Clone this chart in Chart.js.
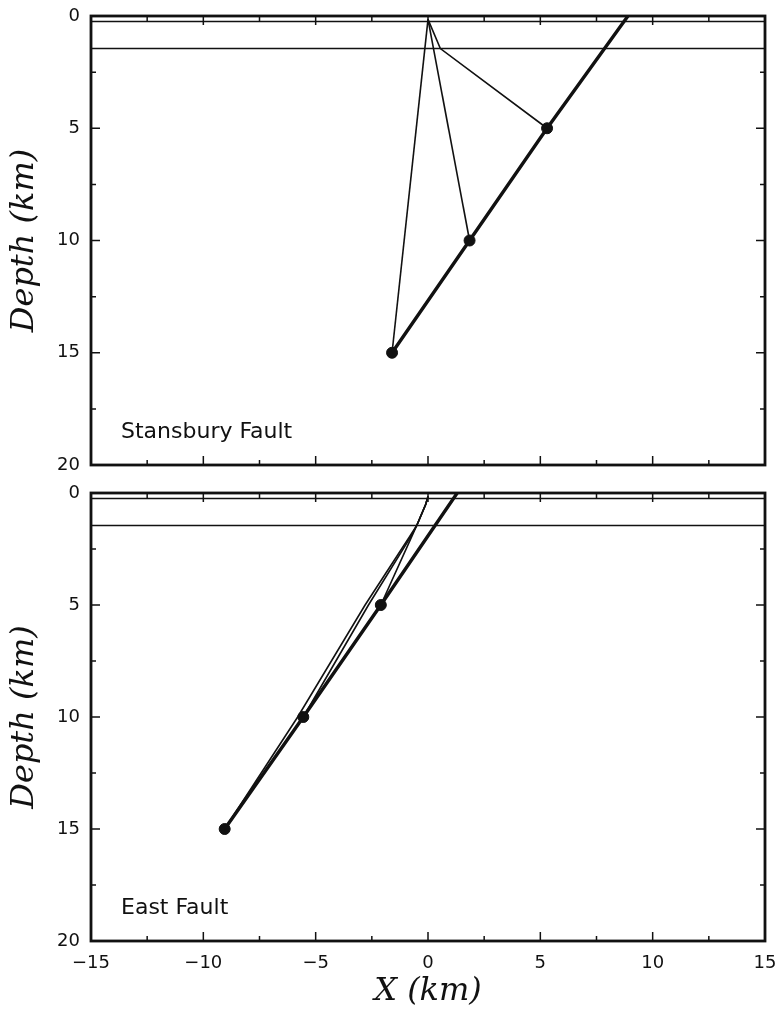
<!DOCTYPE html>
<html>
<head>
<meta charset="utf-8">
<title>Stansbury and East Fault ray paths</title>
<script src="https://cdn.jsdelivr.net/npm/chart.js@4.4.1/dist/chart.umd.min.js"></script>
<style>
  html, body { margin: 0; padding: 0; background: #fff; }
  #wrap { position: relative; width: 776px; height: 1020px; }
  canvas { position: absolute; left: 0; }
  #topChart { top: 0; }
  #bottomChart { top: 476px; }
</style>
</head>
<body>
<div id="wrap">
  <canvas id="topChart" width="776" height="480"></canvas>
  <canvas id="bottomChart" width="776" height="544"></canvas>
</div>
<script>
// ==================== DATA ====================
// depth (km) at which each fault trace value is given
const faultDepths = [0, 5, 10, 15];
// hypocentre depths (km)
const hypoDepths = [5, 10, 15];
// layer boundaries (km)
const layerDepths = [0.25, 1.45];
const xRange = [-15, 15];

// Stansbury Fault
const stansburyFaultX = [8.9, 5.3, 1.85, -1.6];
const stansburyHypoX = [5.3, 1.85, -1.6];
const stansburyRay5X = [0, 0.55, 5.3];
const stansburyRay5Z = [0.15, 1.45, 5];
const stansburyRay10X = [0, 1.85];
const stansburyRay10Z = [0.15, 10];
const stansburyRay15X = [0, -1.6];
const stansburyRay15Z = [0.15, 15];

// East Fault
const eastFaultX = [1.3, -2.1, -5.55, -9.05];
const eastHypoX = [-2.1, -5.55, -9.05];
const eastRay5X = [0, -0.1, -0.5, -0.75, -2.1];
const eastRay5Z = [0.15, 0.5, 1.45, 2.0, 5];
const eastRay10X = [0, -0.1, -0.5, -0.8, -2.65, -5.55];
const eastRay10Z = [0.15, 0.5, 1.45, 2.0, 5, 10];
const eastRay15X = [0, -0.1, -0.5, -0.85, -2.8, -5.8, -9.05];
const eastRay15Z = [0.15, 0.5, 1.45, 2.0, 5, 10, 15];

const depthTicks = [0, 5, 10, 15, 20];

// ==================== HELPERS ====================
const INK = "#111";

function pts(xs, zs) {
  return xs.map((x, i) => ({ x: x, y: zs[i] }));
}

function panelDatasets(faultX, hypoX, rays) {
  const sets = [];
  layerDepths.forEach(d => {
    sets.push({ data: pts(xRange, [d, d]), borderColor: INK, borderWidth: 1.5, pointRadius: 0, showLine: true });
  });
  rays.forEach(r => {
    sets.push({ data: pts(r[0], r[1]), borderColor: INK, borderWidth: 1.6, pointRadius: 0, showLine: true });
  });
  sets.push({ data: pts(faultX, faultDepths), borderColor: INK, borderWidth: 3.4, pointRadius: 0, showLine: true });
  sets.push({ data: pts(hypoX, hypoDepths), backgroundColor: INK, borderColor: INK, pointRadius: 5.5, showLine: false });
  return sets;
}

// frame, inward ticks and panel name
const framePlugin = {
  id: "frame",
  afterDatasetsDraw(chart, args, opts) {
    const { ctx, chartArea: a, scales } = chart;
    const x = scales.x, y = scales.y;
    ctx.save();
    ctx.strokeStyle = INK;
    ctx.lineWidth = 1.5;
    ctx.beginPath();
    for (let v = -12.5; v < 15; v += 2.5) {
      const px = x.getPixelForValue(v);
      const len = v % 5 === 0 ? 9 : 5;
      ctx.moveTo(px, a.bottom); ctx.lineTo(px, a.bottom - len);
      ctx.moveTo(px, a.top); ctx.lineTo(px, a.top + len);
    }
    for (let v = 2.5; v < 20; v += 2.5) {
      const py = y.getPixelForValue(v);
      const len = v % 5 === 0 ? 9 : 5;
      ctx.moveTo(a.left, py); ctx.lineTo(a.left + len, py);
      ctx.moveTo(a.right, py); ctx.lineTo(a.right - len, py);
    }
    ctx.stroke();
    ctx.lineWidth = 2.8;
    ctx.strokeRect(a.left, a.top, a.right - a.left, a.bottom - a.top);
    ctx.fillStyle = INK;
    ctx.font = "22px 'DejaVu Sans'";
    ctx.textBaseline = "alphabetic";
    ctx.fillText(opts.label, a.left + 30, a.bottom - 27);
    ctx.restore();
  }
};

function makeChart(id, datasets, label, showX) {
  return new Chart(document.getElementById(id), {
    type: "scatter",
    data: { datasets: datasets },
    plugins: [framePlugin],
    options: {
      responsive: false,
      animation: false,
      layout: { padding: { top: showX ? 17 : 16, right: 11, bottom: showX ? 0 : 15, left: 0 } },
      plugins: {
        legend: { display: false },
        tooltip: { enabled: false },
        frame: { label: label }
      },
      scales: {
        x: {
          type: "linear",
          min: xRange[0], max: xRange[1],
          display: showX,
          grid: { display: false, drawTicks: false },
          border: { display: false },
          ticks: {
            stepSize: 5, padding: 12, color: INK, maxRotation: 0,
            font: { family: "'DejaVu Sans'", size: 18 },
            callback: v => String(v).replace("-", "\u2212")
          },
          title: {
            display: true, text: "X (km)", color: INK,
            font: { family: "'DejaVu Serif'", size: 32, style: "italic" },
            padding: { top: 0, bottom: 9 }
          },
          afterFit: s => {
            s.height = showX ? 79 : 0;
            s.paddingLeft = 0;
            s.paddingRight = 0;
          }
        },
        y: {
          type: "linear",
          min: 0, max: 20, reverse: true,
          grid: { display: false, drawTicks: false },
          border: { display: false },
          afterBuildTicks: s => { s.ticks = depthTicks.map(v => ({ value: v })); },
          ticks: {
            padding: 11, color: INK,
            font: { family: "'DejaVu Sans'", size: 18 }
          },
          title: {
            display: true, text: "Depth (km)", color: INK,
            font: { family: "'DejaVu Serif'", size: 32, style: "italic" },
            padding: { top: 5, bottom: 0 }
          },
          afterFit: s => {
            s.width = 91;
            s.paddingTop = 0;
            s.paddingBottom = 0;
          }
        }
      }
    }
  });
}

// ==================== INIT ====================
makeChart("topChart",
  panelDatasets(stansburyFaultX, stansburyHypoX, [
    [stansburyRay5X, stansburyRay5Z],
    [stansburyRay10X, stansburyRay10Z],
    [stansburyRay15X, stansburyRay15Z]
  ]),
  "Stansbury Fault", false);

makeChart("bottomChart",
  panelDatasets(eastFaultX, eastHypoX, [
    [eastRay5X, eastRay5Z],
    [eastRay10X, eastRay10Z],
    [eastRay15X, eastRay15Z]
  ]),
  "East Fault", true);
</script>
</body>
</html>
